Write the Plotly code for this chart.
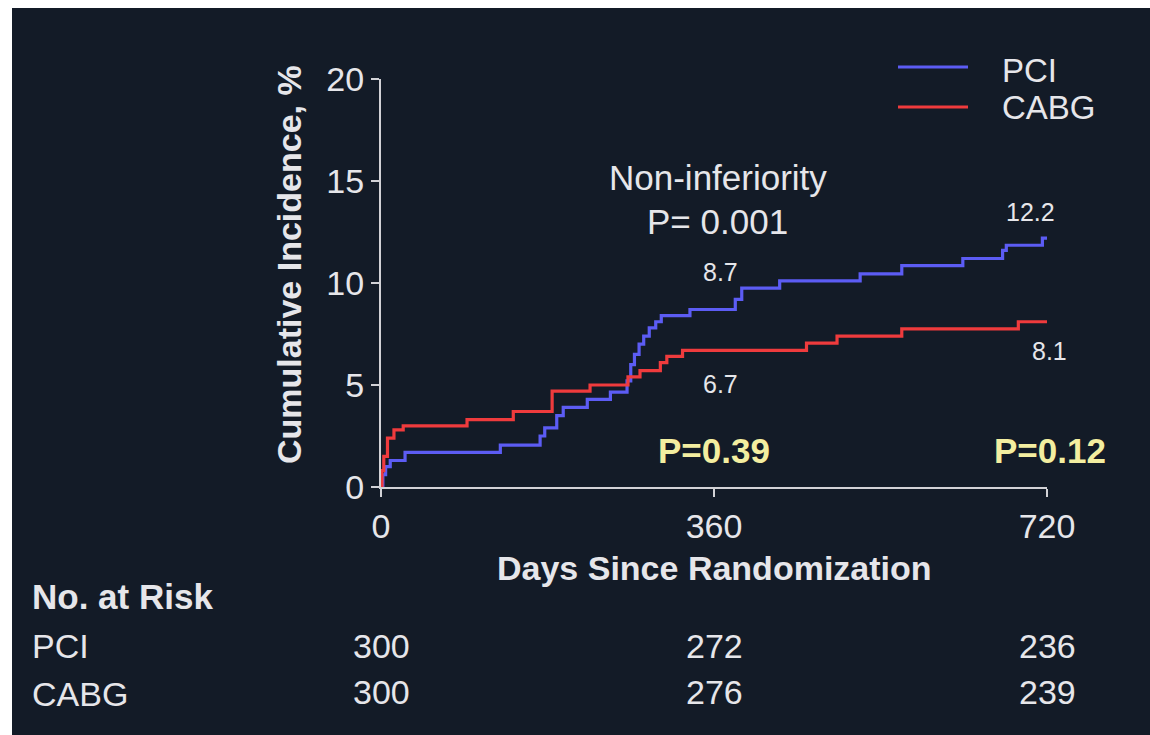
import plotly.graph_objects as go

# Kaplan-Meier style cumulative incidence (step points: day, percent)
pci_days = [0, 2, 5, 10, 26, 129, 172, 177, 190, 197, 223, 248, 266, 270, 274, 279,
            284, 290, 297, 303, 334, 383, 390, 431, 518, 563, 629, 672, 676, 715, 720]
pci_pct = [0, 0.6, 1.0, 1.3, 1.7, 2.05, 2.5, 2.9, 3.5, 3.9, 4.3, 4.65, 5.2, 6.0, 6.5, 7.0,
           7.4, 7.8, 8.1, 8.4, 8.7, 9.2, 9.75, 10.1, 10.45, 10.85, 11.2, 11.6, 11.85, 12.2, 12.2]

cabg_days = [0, 1, 3, 7, 14, 24, 93, 143, 185, 226, 267, 280, 302, 309, 326, 460, 493, 563, 689, 720]
cabg_pct = [0, 0.8, 1.5, 2.4, 2.8, 3.0, 3.3, 3.7, 4.7, 5.0, 5.4, 5.7, 6.1, 6.4, 6.7, 7.05, 7.4, 7.75, 8.1, 8.1]

x_ticks = [0, 360, 720]
y_ticks = [0, 5, 10, 15, 20]

# Numbers at risk at each x tick
risk_pci = [300, 272, 236]
risk_cabg = [300, 276, 239]

# Point estimates called out on the curves
pci_callouts = [(360, 8.7), (720, 12.2)]
cabg_callouts = [(360, 6.7), (720, 8.1)]
p_values = [(360, "P=0.39"), (720, "P=0.12")]

BG = "#131b27"
FG = "#e6e6ea"
BLUE = "#5c5cf4"
RED = "#ef3b3d"
YELLOW = "#f3eea0"
AXIS = "#d2d2d6"
FONT = "Liberation Sans, Arial, sans-serif"

W, H = 1150, 735
L, R, T, B = 381, 1047, 79, 487  # plot area in pixels


def px(xp):
    return (xp - L) / (R - L)


def py(yp):
    return (B - yp) / (B - T)


fig = go.Figure()
fig.add_trace(go.Scatter(x=pci_days, y=pci_pct, mode="lines", line_shape="hv",
                         line=dict(color=BLUE, width=3.2), name="PCI", cliponaxis=False))
fig.add_trace(go.Scatter(x=cabg_days, y=cabg_pct, mode="lines", line_shape="hv",
                         line=dict(color=RED, width=3.2), name="CABG", cliponaxis=False))

shapes = [
    # dark panel
    dict(type="rect", xref="paper", yref="paper", x0=px(12), x1=px(W + 5), y0=py(8), y1=py(H + 5),
         fillcolor=BG, line=dict(width=0), layer="below"),
    # legend swatches
    dict(type="line", xref="paper", yref="paper", x0=px(898), x1=px(968), y0=py(67), y1=py(67),
         line=dict(color=BLUE, width=3)),
    dict(type="line", xref="paper", yref="paper", x0=px(898), x1=px(968), y0=py(107), y1=py(107),
         line=dict(color=RED, width=3)),
]

ann = []


def text(x, y, s, size=32, bold=False, color=FG, xanchor="center", angle=0):
    ann.append(dict(x=x, y=y, xref="paper", yref="paper", text=f"<b>{s}</b>" if bold else s,
                    showarrow=False, xanchor=xanchor, yanchor="middle", textangle=angle,
                    font=dict(family=FONT, size=size, color=color)))


text(px(1000), py(70), "PCI", size=33, xanchor="left")
text(px(1000), py(107), "CABG", size=33, xanchor="left")

text(px(718), py(177), "Non-inferiority", size=35)
text(px(717), py(221), "P= 0.001", size=35)

text(px(720), py(272), f"{pci_callouts[0][1]:.1f}", size=25)
text(px(1030), py(212), f"{pci_callouts[1][1]:.1f}", size=25)
text(px(720), py(384), f"{cabg_callouts[0][1]:.1f}", size=25)
text(px(1049), py(351), f"{cabg_callouts[1][1]:.1f}", size=25)

text(px(714), py(450), p_values[0][1], size=35, bold=True, color=YELLOW)
text(px(1050), py(450), p_values[1][1], size=35, bold=True, color=YELLOW)

text(px(289), py(265), "Cumulative Incidence, %", size=34, bold=True, angle=-90)
text(px(714), py(568), "Days Since Randomization", size=34, bold=True)

text(px(30), py(596), "No. at Risk", size=35, bold=True, xanchor="left")
text(px(30), py(646), "PCI", size=34, xanchor="left")
text(px(30), py(694), "CABG", size=34, xanchor="left")

for xv, a, b in zip(x_ticks, risk_pci, risk_cabg):
    xp = L + (R - L) * xv / 720
    text(px(xp), py(646), str(a), size=34)
    text(px(xp), py(692), str(b), size=34)

fig.update_layout(
    width=W, height=H,
    margin=dict(l=L, r=W - R, t=T, b=H - B, pad=0),
    paper_bgcolor="#ffffff", plot_bgcolor=BG,
    showlegend=False,
    shapes=shapes, annotations=ann,
    font=dict(family=FONT, color=FG),
    xaxis=dict(range=[0, 720], tickvals=x_ticks, showgrid=False, zeroline=False,
               showline=True, linecolor=AXIS, linewidth=2,
               ticks="outside", ticklen=8, tickwidth=2, tickcolor=AXIS,
               tickfont=dict(family=FONT, size=34, color=FG)),
    yaxis=dict(range=[0, 20], tickvals=y_ticks, showgrid=False, zeroline=False,
               showline=True, linecolor=AXIS, linewidth=2,
               ticks="outside", ticklen=8, tickwidth=2, tickcolor=AXIS,
               tickfont=dict(family=FONT, size=34, color=FG)),
)

fig.write_html("out.html")
